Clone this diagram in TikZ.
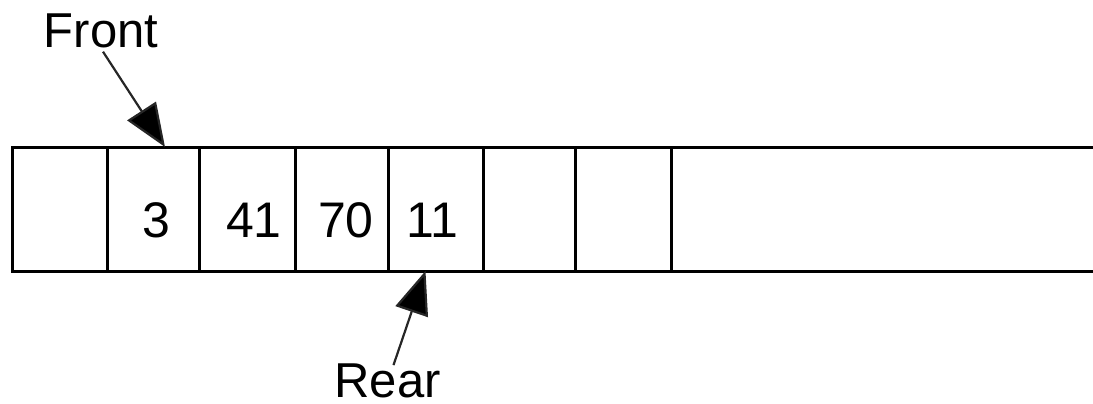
\documentclass[tikz,border=0pt]{standalone}
\usepackage{fontspec}
\setmainfont{Liberation Sans}
\usetikzlibrary{arrows.meta}
\begin{document}
\begin{tikzpicture}[x=1pt,y=-1pt,
  cell/.style={draw, line width=3pt, minimum height=124pt, inner sep=0pt, outer sep=0pt},
  opencell/.style={minimum height=124pt, inner sep=0pt, outer sep=0pt},
  val/.style={anchor=base, inner sep=0pt, font=\fontsize{50}{50}\selectfont},
  lbl/.style={anchor=base, inner sep=0pt, font=\fontsize{49}{49}\selectfont},
  arr/.style={line width=2.2pt, draw=black!85, -{Triangle[length=43pt,width=34pt,fill=black]}}]
\useasboundingbox (0,0) rectangle (1093,404);
% cells: boundaries 12,107,199,295,388,483,575,671, open to 1093
\node[cell, minimum width=95pt] (c1) at (59.5,209) {};
\node[cell, minimum width=92pt] (c2) at (153,209) {};
\node[cell, minimum width=96pt] (c3) at (247,209) {};
\node[cell, minimum width=93pt] (c4) at (341.5,209) {};
\node[cell, minimum width=95pt] (c5) at (435.5,209) {};
\node[cell, minimum width=92pt] (c6) at (529,209) {};
\node[cell, minimum width=96pt] (c7) at (623,209) {};
\node[opencell, minimum width=422pt] (c8) at (882,209) {};
\draw[line width=3pt] (c8.north west) -- (c8.north east);
\draw[line width=3pt] (c8.south west) -- (c8.south east);
% values
\node[val] (v2) at (156,237) {3};
\node[val] (v3) at (254,237) {41};
\node[val] (v4) at (346,237) {70};
\node[val] (v5) at (432,237) {11};
% labels
\node[lbl] (front) at (101,48) {Front};
\node[lbl] (rear) at (387.5,397) {Rear};
% pointers
\draw[arr] ([xshift=2pt,yshift=-3pt]front.south) -- ([xshift=12pt]c2.north);
\draw[arr] ([xshift=6pt,yshift=-2pt]rear.north) -- ([xshift=-10pt]c5.south);
\end{tikzpicture}
\end{document}
